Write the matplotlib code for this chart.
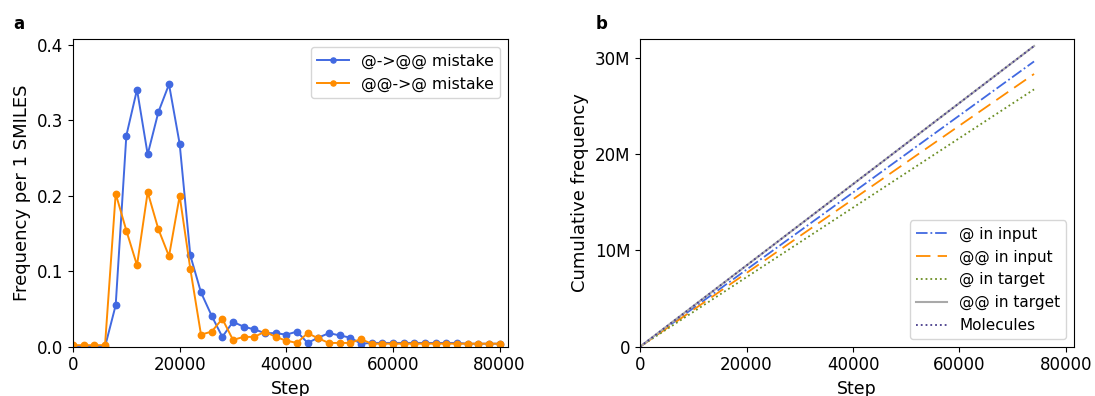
import matplotlib
matplotlib.use("Agg")
import matplotlib.pyplot as plt
from matplotlib.ticker import FuncFormatter

# Panel a: per-SMILES chirality mistake frequency during training
steps = list(range(0, 80001, 2000))
cw_to_ccw = [0.0, 0.0, 0.0, 0.0, 0.055, 0.280, 0.341, 0.255, 0.311, 0.348,
             0.269, 0.121, 0.072, 0.041, 0.013, 0.033, 0.0265, 0.023, 0.018, 0.018,
             0.016, 0.020, 0.005, 0.012, 0.018, 0.015, 0.012, 0.004, 0.005, 0.005,
             0.005, 0.005, 0.005, 0.005, 0.005, 0.005, 0.005, 0.004, 0.004, 0.004, 0.004]
ccw_to_cw = [0.002, 0.002, 0.002, 0.002, 0.203, 0.154, 0.108, 0.205, 0.156, 0.120,
             0.200, 0.103, 0.016, 0.020, 0.037, 0.009, 0.013, 0.013, 0.020, 0.013,
             0.008, 0.005, 0.018, 0.011, 0.005, 0.005, 0.005, 0.010, 0.004, 0.004,
             0.004, 0.004, 0.004, 0.004, 0.004, 0.004, 0.004, 0.004, 0.004, 0.004, 0.004]

# Panel b: cumulative token / molecule counts
cum_steps = [0, 74000]
at_input = [0, 29.6e6]
atat_input = [0, 28.3e6]
at_target = [0, 26.7e6]
atat_target = [0, 31.2e6]
molecules = [0, 31.2e6]

plt.rcParams["font.family"] = "DejaVu Sans"
fig = plt.figure(figsize=(10.95, 3.96), dpi=100)

ax1 = fig.add_axes([0.0667, 0.1245, 0.3973, 0.7763])
ax1.plot(steps, cw_to_ccw, "-o", color="royalblue", ms=4.6, lw=1.4, label="@->@@ mistake")
ax1.plot(steps, ccw_to_cw, "-o", color="darkorange", ms=4.6, lw=1.4, label="@@->@ mistake")
ax1.set_xlim(0, 81600)
ax1.set_ylim(0, 0.4077)
ax1.set_xticks([0, 20000, 40000, 60000, 80000])
ax1.set_yticks([0.0, 0.1, 0.2, 0.3, 0.4])
ax1.set_xlabel("Step", fontsize=12.5)
ax1.set_ylabel("Frequency per 1 SMILES", fontsize=13)
ax1.tick_params(labelsize=12)
ax1.legend(loc="upper right", fontsize=11.3, markerscale=0.8)

ax2 = fig.add_axes([0.5845, 0.1245, 0.3963, 0.7763])
ax2.plot(cum_steps, at_input, color="royalblue", ls="-.", lw=1.3, label="@ in input")
ax2.plot(cum_steps, atat_input, color="darkorange", ls=(0, (8, 4)), lw=1.3, label="@@ in input")
ax2.plot(cum_steps, at_target, color="olivedrab", ls=":", lw=1.3, label="@ in target")
ax2.plot(cum_steps, atat_target, color="darkgray", ls="-", lw=1.5, label="@@ in target")
ax2.plot(cum_steps, molecules, color="darkslateblue", ls=":", lw=1.3, label="Molecules")
ax2.set_xlim(0, 81500)
ax2.set_ylim(0, 31.9e6)
ax2.set_xticks([0, 20000, 40000, 60000, 80000])
ax2.set_yticks([0, 10e6, 20e6, 30e6])
ax2.yaxis.set_major_formatter(FuncFormatter(lambda v, p: "0" if v == 0 else f"{v/1e6:.0f}M"))
ax2.set_xlabel("Step", fontsize=12.5)
ax2.set_ylabel("Cumulative frequency", fontsize=13)
ax2.tick_params(labelsize=12)
ax2.legend(loc="lower right", fontsize=11)

fig.text(0.012, 0.928, "a", fontsize=12, fontweight="bold")
fig.text(0.544, 0.928, "b", fontsize=12, fontweight="bold")

fig.savefig("out.png", dpi=100)
